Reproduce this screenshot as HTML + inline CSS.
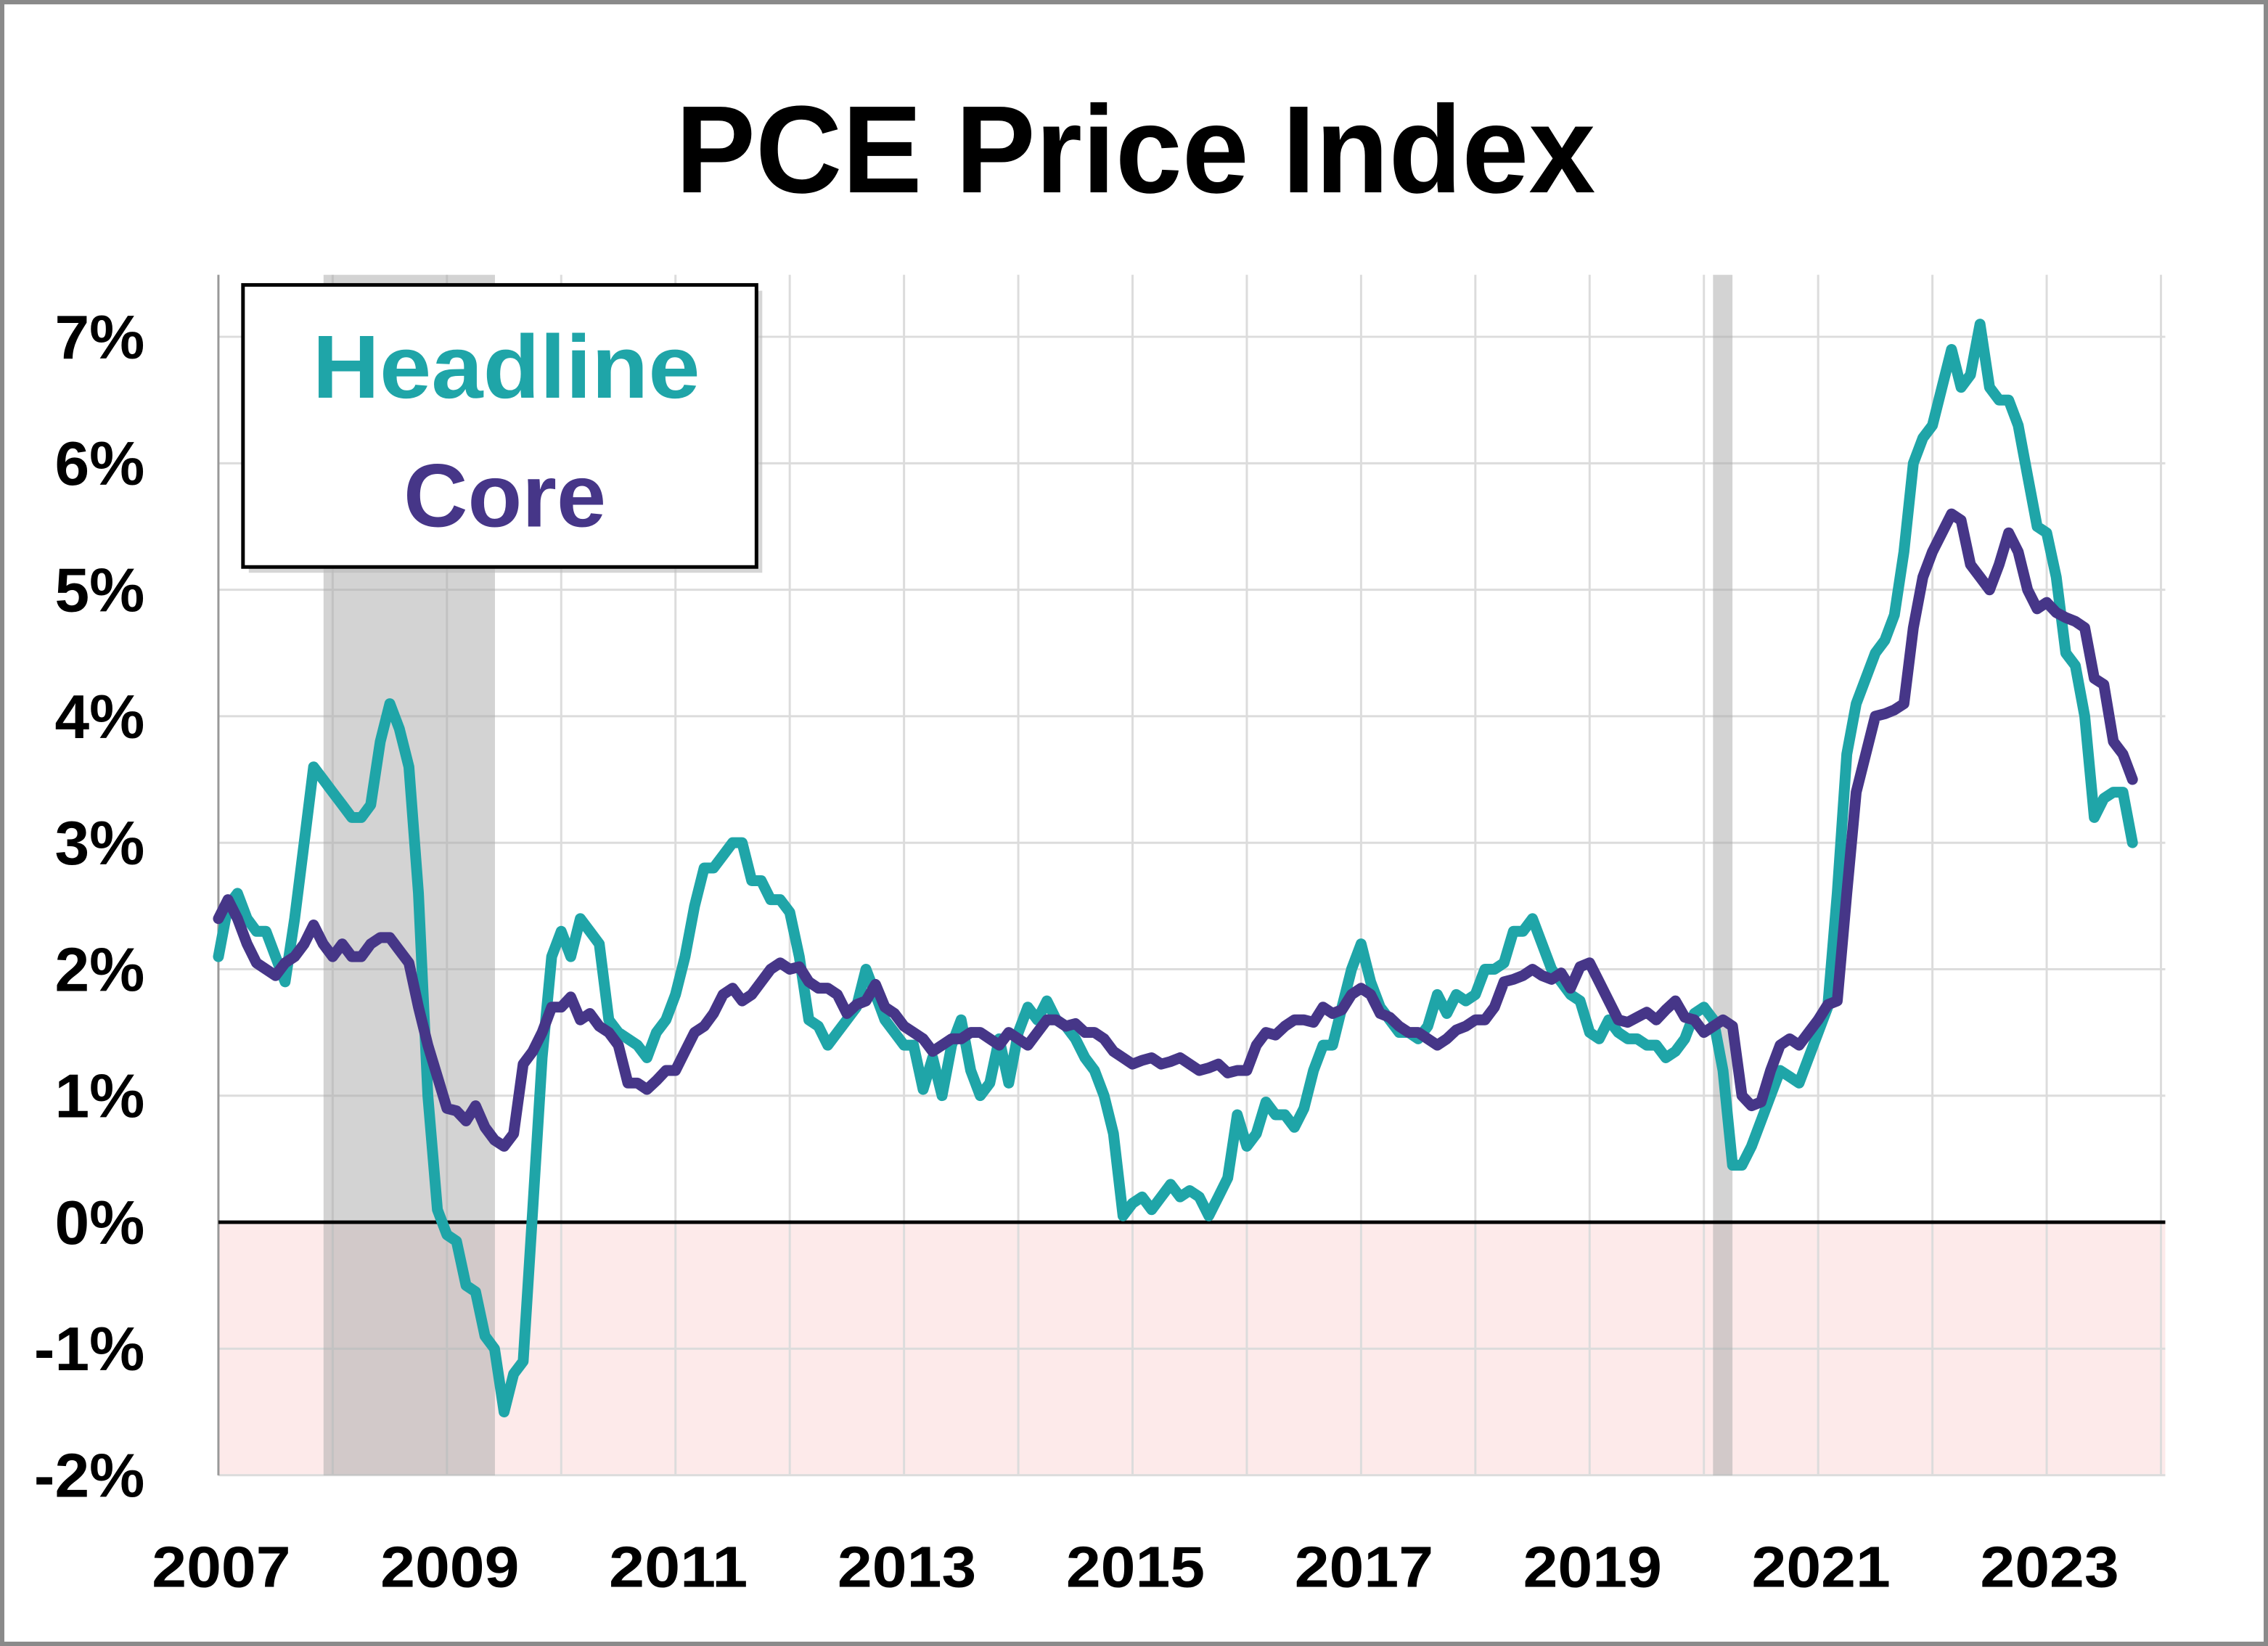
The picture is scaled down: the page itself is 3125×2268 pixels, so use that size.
<!DOCTYPE html>
<html><head><meta charset="utf-8"><style>
html,body{margin:0;padding:0;background:#fff}
svg{display:block}
text{font-family:"Liberation Sans",sans-serif;font-weight:bold}
</style></head><body>
<svg id="chart" width="3125" height="2268" viewBox="0 0 1568 1138" preserveAspectRatio="none" xmlns="http://www.w3.org/2000/svg">
<rect x="1.5" y="1.5" width="1565" height="1135" fill="#fff" stroke="#8a8a8a" stroke-width="3"/>
<text x="785" y="133" font-size="86" text-anchor="middle" textLength="636" lengthAdjust="spacingAndGlyphs" fill="#000">PCE Price Index</text>
<g id="plot"></g>
<g>
<rect x="172" y="201" width="355" height="195" fill="#bbb" opacity="0.6"/>
<rect x="168" y="197" width="355" height="195" fill="#fff" stroke="#000" stroke-width="2.5"/>
<text x="350" y="275" font-size="62" text-anchor="middle" textLength="268" lengthAdjust="spacingAndGlyphs" fill="#1FA5A8">Headline</text>
<text x="349" y="364" font-size="62" text-anchor="middle" textLength="140" lengthAdjust="spacingAndGlyphs" fill="#463688">Core</text>
</g>
</svg>
<script>
const startYear = 2007;
const yTicks = [-2,-1,0,1,2,3,4,5,6,7];
const xTickYears = [2007,2009,2011,2013,2015,2017,2019,2021,2023];
const recessions = [[2007.92,2009.42],[2020.08,2020.25]];
const headline = [
2.1,2.5,2.6,2.4,2.3,2.3,2.1,1.9,2.4,3.0,3.6,3.5,
3.4,3.3,3.2,3.2,3.3,3.8,4.1,3.9,3.6,2.6,1.0,0.1,
-0.1,-0.15,-0.5,-0.55,-0.9,-1.0,-1.5,-1.2,-1.1,0.1,1.3,2.1,
2.3,2.1,2.4,2.3,2.2,1.6,1.5,1.45,1.4,1.3,1.5,1.6,
1.8,2.1,2.5,2.8,2.8,2.9,3.0,3.0,2.7,2.7,2.55,2.55,
2.45,2.1,1.6,1.55,1.4,1.5,1.6,1.7,2.0,1.8,1.6,1.5,
1.4,1.4,1.05,1.3,1.0,1.4,1.6,1.2,1.0,1.1,1.45,1.1,
1.5,1.7,1.6,1.75,1.6,1.55,1.45,1.3,1.2,1.0,0.7,0.05,
0.15,0.2,0.1,0.2,0.3,0.2,0.25,0.2,0.05,0.2,0.35,0.85,
0.6,0.7,0.95,0.85,0.85,0.75,0.9,1.2,1.4,1.4,1.7,2.0,
2.2,1.9,1.7,1.6,1.5,1.5,1.45,1.55,1.8,1.65,1.8,1.75,
1.8,2.0,2.0,2.05,2.3,2.3,2.4,2.2,2.0,1.9,1.8,1.75,
1.5,1.45,1.6,1.5,1.45,1.45,1.4,1.4,1.3,1.35,1.45,1.65,
1.7,1.6,1.2,0.45,0.45,0.6,0.8,1.0,1.2,1.15,1.1,1.3,
1.5,1.7,2.6,3.7,4.1,4.3,4.5,4.6,4.8,5.3,6.0,6.2,
6.3,6.6,6.9,6.6,6.7,7.1,6.6,6.5,6.5,6.3,5.9,5.5,
5.45,5.1,4.5,4.4,4.0,3.2,3.35,3.4,3.4,3.0];
const core = [
2.4,2.55,2.4,2.2,2.05,2.0,1.95,2.05,2.1,2.2,2.35,2.2,
2.1,2.2,2.1,2.1,2.2,2.25,2.25,2.15,2.05,1.7,1.4,1.15,
0.9,0.88,0.8,0.92,0.75,0.65,0.6,0.7,1.25,1.35,1.5,1.7,
1.7,1.78,1.6,1.65,1.55,1.5,1.4,1.1,1.1,1.05,1.12,1.2,
1.2,1.35,1.5,1.55,1.65,1.8,1.85,1.75,1.8,1.9,2.0,2.05,
2.0,2.02,1.9,1.85,1.85,1.8,1.65,1.72,1.75,1.88,1.7,1.65,
1.55,1.5,1.45,1.35,1.4,1.45,1.45,1.5,1.5,1.45,1.4,1.5,
1.45,1.4,1.5,1.6,1.6,1.55,1.57,1.5,1.5,1.45,1.35,1.3,
1.25,1.28,1.3,1.25,1.27,1.3,1.25,1.2,1.22,1.25,1.18,1.2,
1.2,1.4,1.5,1.48,1.55,1.6,1.6,1.58,1.7,1.65,1.68,1.8,
1.85,1.8,1.65,1.62,1.55,1.5,1.5,1.45,1.4,1.45,1.52,1.55,
1.6,1.6,1.7,1.9,1.92,1.95,2.0,1.95,1.92,1.97,1.85,2.02,
2.05,1.9,1.75,1.6,1.58,1.62,1.66,1.6,1.68,1.75,1.62,1.6,
1.5,1.55,1.6,1.55,1.0,0.92,0.95,1.2,1.4,1.45,1.4,1.5,
1.6,1.72,1.75,2.6,3.4,3.7,4.0,4.02,4.05,4.1,4.7,5.1,
5.3,5.45,5.6,5.55,5.2,5.1,5.0,5.2,5.45,5.3,5.0,4.85,
4.9,4.82,4.78,4.75,4.7,4.3,4.25,3.8,3.7,3.5];

const NS='http://www.w3.org/2000/svg';
const L=151,R=1497,T=190,B=1020;
function xs(yr){return L+(yr-startYear)*79;}
function ys(v){return 845-v*87.45;}
const g=document.getElementById('plot');
function mk(tag,attrs,parent){const e=document.createElementNS(NS,tag);for(const k in attrs)e.setAttribute(k,attrs[k]);(parent||g).appendChild(e);return e;}

let e=mk('rect',{x:L,y:ys(0),width:R-L,height:B-ys(0),fill:'#fdeaea'});


for(let yr=startYear+1;yr<=2024;yr++){
  e=mk('line',{x1:xs(yr),x2:xs(yr),y1:T,y2:B,stroke:'#dcdcdc','stroke-width':1.5});
  
  
}
yTicks.forEach(v=>{
  if(v===0)return;
  e=mk('line',{x1:L,x2:R,y1:ys(v),y2:ys(v),stroke:'#dcdcdc','stroke-width':1.5});
  
  
});
recessions.forEach(r=>{
  e=mk('rect',{x:xs(r[0]),y:T,width:xs(r[1])-xs(r[0]),height:B-T,fill:'#a8a8a8',opacity:0.5});
  
  
});
e=mk('line',{x1:L,x2:L,y1:T,y2:B,stroke:'#999','stroke-width':1.5});


e=mk('line',{x1:L,x2:R,y1:ys(0),y2:ys(0),stroke:'#000','stroke-width':2.5});


yTicks.forEach(v=>{
  e=mk('text',{x:100,y:ys(v)+15,'font-size':43,'text-anchor':'end',fill:'#000'});
  e.textContent=v+'%';
  
  
});
xTickYears.forEach(yr=>{
  e=mk('text',{x:xs(yr)+2,y:1097,'font-size':40,'text-anchor':'middle',textLength:96,lengthAdjust:'spacingAndGlyphs',fill:'#000'});
  e.textContent=yr;
  
  
});
function series(arr,color,name){
  const d=arr.map((v,i)=>(i?'L':'M')+xs(startYear+i/12).toFixed(1)+' '+ys(v).toFixed(1)).join(' ');
  const p=mk('path',{d:d,fill:'none',stroke:color,'stroke-width':7.5,'stroke-linejoin':'round','stroke-linecap':'round'});
  
  
}
series(headline,'#1FA5A8','headline-line');
series(core,'#463688','core-line');
</script>
</body></html>
